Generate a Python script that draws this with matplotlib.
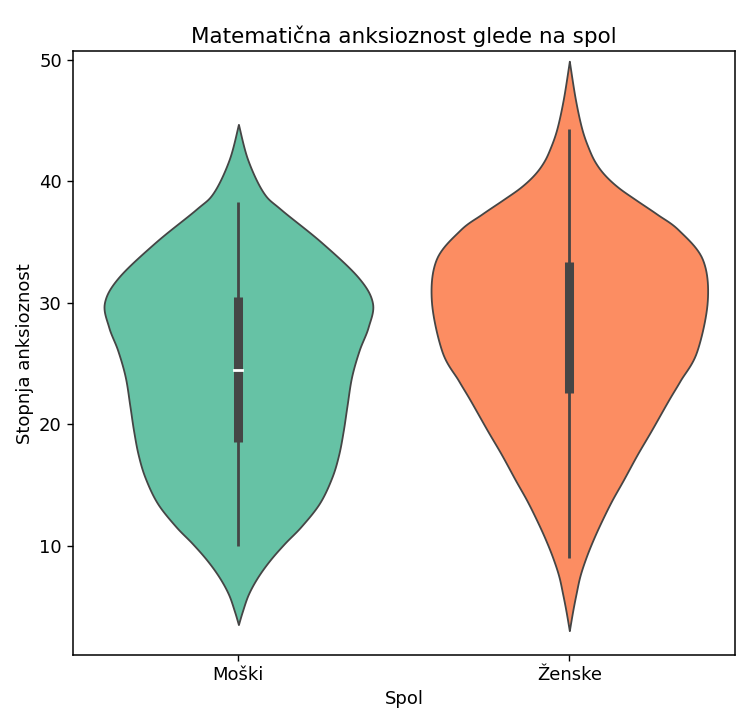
import numpy as np
import matplotlib
matplotlib.use("Agg")
import matplotlib.pyplot as plt

# categories and colours
spol = ["Moški", "Ženske"]
barve = ["#66c2a5", "#fc8d62"]

# violin outline: anxiety level -> half width (share of slot)
moski_y = [3.5, 4.6, 6.0, 7.4, 8.8, 10.2, 11.6, 13.5, 15.6, 17.5, 19.5, 21.5,
           23.9, 26.1, 28.0, 30.0, 32.1, 35.0, 37.7, 39.1, 41.8, 44.7]
moski_w = [0.0, 0.012, 0.030, 0.058, 0.095, 0.140, 0.190, 0.245, 0.282, 0.303,
           0.317, 0.328, 0.342, 0.365, 0.392, 0.405, 0.362, 0.250, 0.128, 0.075,
           0.028, 0.0]
zenske_y = [3.0, 4.6, 6.0, 7.5, 9.0, 10.5, 12.0, 13.7, 15.4, 17.5, 19.5, 22.0,
            23.6, 26.0, 30.2, 33.6, 36.0, 37.3, 38.5, 39.5, 40.5, 41.5, 42.6,
            44.3, 46.8, 49.9]
zenske_w = [0.0, 0.010, 0.020, 0.032, 0.050, 0.072, 0.097, 0.128, 0.163, 0.205,
            0.248, 0.300, 0.335, 0.385, 0.417, 0.402, 0.330, 0.265, 0.200, 0.148,
            0.108, 0.080, 0.060, 0.038, 0.018, 0.0]

# inner box: whisker low, q1, median, q3, whisker high
wh_lo = [10.0, 9.0]
q1 = [18.5, 22.6]
med = [24.5, None]
q3 = [30.5, 33.4]
wh_hi = [38.3, 44.3]

obrisi = [(moski_y, moski_w), (zenske_y, zenske_w)]


def smooth(y, w, n=12):
    # catmull-rom curve through the read points, only for drawing
    P = np.column_stack([np.asarray(y, float), np.asarray(w, float)])
    P = np.vstack([P[0], P, P[-1]])
    out = []
    t = np.linspace(0, 1, n, endpoint=False)[:, None]
    for i in range(1, len(P) - 2):
        p0, p1, p2, p3 = P[i - 1], P[i], P[i + 1], P[i + 2]
        c = 0.5 * ((2 * p1) + (-p0 + p2) * t + (2 * p0 - 5 * p1 + 4 * p2 - p3) * t ** 2
                   + (-p0 + 3 * p1 - 3 * p2 + p3) * t ** 3)
        out.append(c)
    out.append(P[-2][None, :])
    out = np.vstack(out)
    return out[:, 0], np.clip(out[:, 1], 0, None)


fig = plt.figure(figsize=(7.37, 7.10), dpi=100)
ax = fig.add_axes([0.099, 0.0775, 0.898, 0.85])

for i, (yy, ww) in enumerate(obrisi):
    ys, ws = smooth(yy, ww)
    ax.fill_betweenx(ys, i - ws, i + ws, facecolor=barve[i], edgecolor="#454545",
                     linewidth=1.3, zorder=1)
    ax.plot([i, i], [wh_lo[i], wh_hi[i]], color="#454545", lw=2.0,
            solid_capstyle="butt", zorder=2)
    ax.plot([i, i], [q1[i], q3[i]], color="#454545", lw=6.5,
            solid_capstyle="butt", zorder=3)
    if med[i] is not None:
        ax.plot([i - 0.012, i + 0.012], [med[i], med[i]], color="white", lw=2, zorder=4)

ax.set_xlim(-0.5, 1.5)
ax.set_ylim(1.0, 50.7)
ax.set_xticks(range(len(spol)))
ax.set_xticklabels(spol)
ax.set_yticks([10, 20, 30, 40, 50])
ax.tick_params(labelsize=13, length=4.5, width=1)
ax.set_xlabel("Spol", fontsize=13)
ax.set_ylabel("Stopnja anksioznost", fontsize=13)
ax.set_title("Matematična anksioznost glede na spol", fontsize=15.5)
for s in ax.spines.values():
    s.set_linewidth(1.1)

fig.savefig("out.png", dpi=100)
